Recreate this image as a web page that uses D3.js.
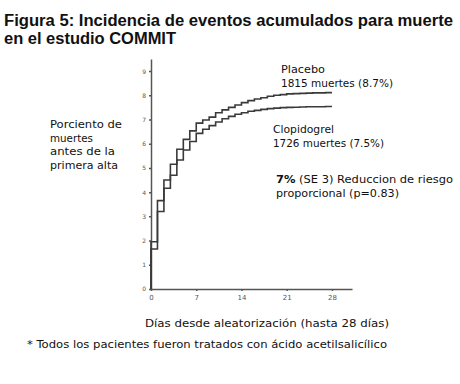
<!DOCTYPE html>
<html>
<head>
<meta charset="utf-8">
<script src="https://cdn.jsdelivr.net/npm/d3@7"></script>
<style>
  body { margin: 0; background: #fff; }
  svg { display: block; }
  .axis path, .axis line { stroke: #555; stroke-width: 1.5; }
  .axis text { fill: #555; font-family: "DejaVu Sans", sans-serif; }
</style>
</head>
<body>
<svg id="chart" width="460" height="384"></svg>
<script>
// daily cumulative incidence (%)
var days = [0,1,2,3,4,5,6,7,8,9,10,11,12,13,14,15,16,17,18,19,20,21,22,23,24,25,26,27,28];
var placebo = [1.95,3.65,4.5,5.15,5.77,6.18,6.53,6.85,6.98,7.1,7.28,7.4,7.5,7.6,7.7,7.78,7.85,7.9,7.96,8.0,8.03,8.06,8.07,8.08,8.09,8.1,8.1,8.11,8.11];
var clopidogrel = [1.65,3.2,4.16,4.7,5.33,5.74,6.09,6.43,6.6,6.75,6.9,7.03,7.13,7.22,7.28,7.34,7.38,7.42,7.45,7.47,7.49,7.5,7.51,7.52,7.53,7.53,7.53,7.54,7.54];
var xTicks = [0, 7, 14, 21, 28];
var yTicks = [0,1,2,3,4,5,6,7,8,9];

var svg = d3.select("#chart");

var x = d3.scaleLinear().domain([0, 31.1]).range([151, 352]),
    y = d3.scaleLinear().domain([0, 9.5]).range([289, 59]);

// title
svg.append("text")
  .attr("x", 4).attr("y", 26)
  .attr("font-family", "Liberation Sans, Arial, sans-serif")
  .attr("font-weight", "bold").attr("font-size", 16)
  .attr("textLength", 449).attr("lengthAdjust", "spacingAndGlyphs")
  .attr("fill", "#111")
  .text("Figura 5: Incidencia de eventos acumulados para muerte");
svg.append("text")
  .attr("x", 4).attr("y", 44)
  .attr("font-family", "Liberation Sans, Arial, sans-serif")
  .attr("font-weight", "bold").attr("font-size", 16)
  .attr("textLength", 172).attr("lengthAdjust", "spacingAndGlyphs")
  .attr("fill", "#111")
  .text("en el estudio COMMIT");

// axes
svg.append("g")
  .attr("class", "axis")
  .attr("transform", "translate(0," + y(0) + ")")
  .call(d3.axisBottom(x).tickValues(xTicks).tickSize(2).tickSizeOuter(0).tickPadding(4))
  .selectAll("text").attr("font-size", 7);

svg.append("g")
  .attr("class", "axis")
  .attr("transform", "translate(" + x(0) + ",0)")
  .call(d3.axisLeft(y).tickValues(yTicks).tickSize(2).tickSizeOuter(0).tickPadding(3))
  .selectAll("text").attr("font-size", 6);

// step curves
var line = d3.line()
  .x(function(d) { return x(d[0]); })
  .y(function(d) { return y(d[1]); })
  .curve(d3.curveStepAfter);

[placebo, clopidogrel].forEach(function(series) {
  var pts = days.map(function(d, i) { return [d, series[i]]; });
  pts.unshift([0, 0]);
  svg.append("path")
    .datum(pts)
    .attr("fill", "none")
    .attr("stroke", "#3a3a3a")
    .attr("stroke-width", 1.6)
    .attr("d", line);
});

// annotations
var font = "DejaVu Sans, Verdana, sans-serif";
function label(txt, px, py, w, size) {
  var el = svg.append("text")
    .attr("x", px).attr("y", py)
    .attr("font-family", font).attr("font-size", size || 10)
    .attr("fill", "#111")
    .text(txt);
  if (w) el.attr("textLength", w).attr("lengthAdjust", "spacingAndGlyphs");
  return el;
}

label("Placebo", 281, 73, 44);
label("1815 muertes (8.7%)", 281, 87, 112);
label("Clopidogrel", 273, 133, 61);
label("1726 muertes (7.5%)", 273, 147, 111);

var t = svg.append("text")
  .attr("x", 276).attr("y", 183)
  .attr("font-family", font).attr("font-size", 10).attr("fill", "#111")
  .attr("textLength", 177).attr("lengthAdjust", "spacingAndGlyphs");
t.append("tspan").attr("font-weight", "bold").text("7%");
t.append("tspan").text(" (SE 3) Reduccion de riesgo");
label("proporcional (p=0.83)", 276, 197, 123);

var yLabel = ["Porciento de", "muertes", "antes de la", "primera alta"],
    yLabelW = [72, 43, 65, 68];
yLabel.forEach(function(s, i) {
  label(s, 50, 128 + i * 13.5, yLabelW[i]);
});

label("Días desde aleatorización (hasta 28 días)", 145, 327, 244);
label("* Todos los pacientes fueron tratados con ácido acetilsalicílico", 27, 348, 360);
</script>
</body>
</html>
